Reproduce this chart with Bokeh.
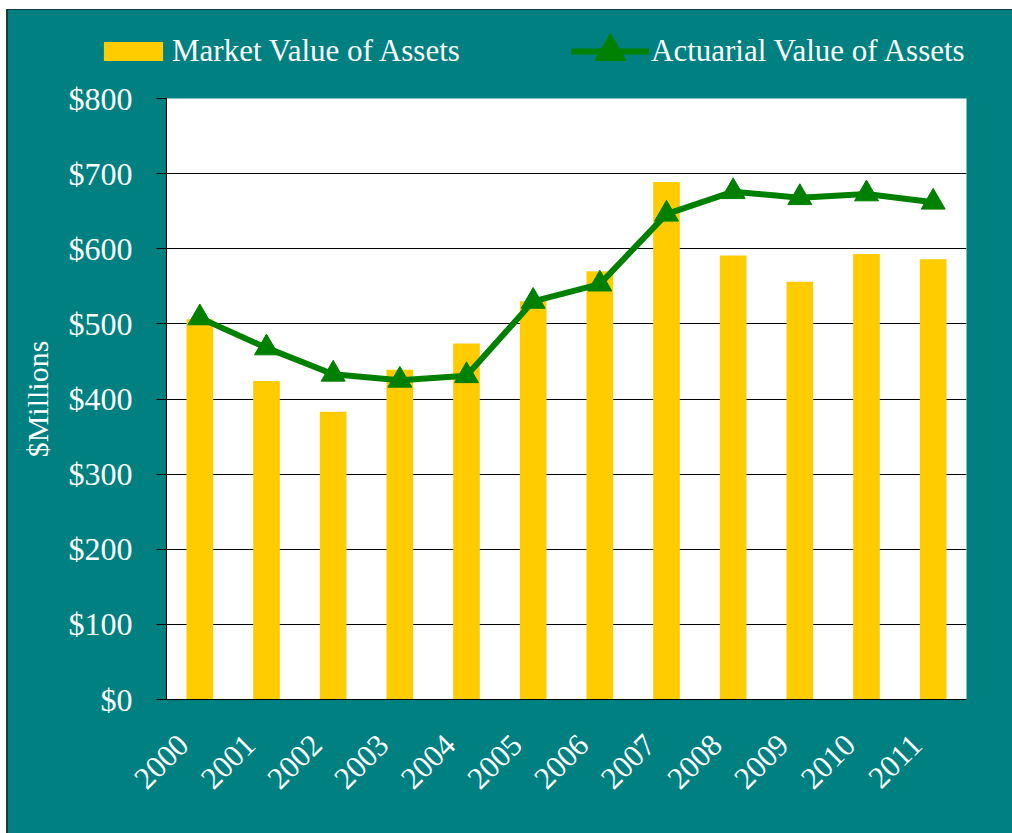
from math import pi
from bokeh.plotting import figure
from bokeh.layouts import column
from bokeh.models import (Range1d, Legend, LegendItem, NumeralTickFormatter, FixedTicker)
from bokeh.embed import file_html
from bokeh.resources import INLINE

years = ["2000", "2001", "2002", "2003", "2004", "2005", "2006", "2007", "2008", "2009", "2010", "2011"]
market_value = [506, 424, 383, 439, 474, 530, 570, 689, 591, 556, 593, 586]
actuarial_value = [508, 468, 433, 425, 431, 530, 553, 646, 676, 668, 673, 662]
y_ticks = [0, 100, 200, 300, 400, 500, 600, 700, 800]
series_names = ["Market Value of Assets", "Actuarial Value of Assets"]

TEAL = "#008080"
GOLD = "#FFCC00"
GREEN = "#008000"
FONT = "Liberation Serif"
W = 1004

# category slots: year i occupies [i, i+1] on the x scale, centred at i + 0.5
x_pos = [i + 0.5 for i in range(len(years))]

# ---- legend strip (top) ----
lf = figure(x_range=Range1d(0, len(years)), y_range=Range1d(5000, 5100), width=W, height=68,
            output_backend="svg", toolbar_location=None,
            min_border_left=0, min_border_right=0, min_border_top=0, min_border_bottom=0)
lf.frame_align = False
lf.axis.visible = False
lf.grid.visible = False
lf.outline_line_color = None
lf.background_fill_color = TEAL
lf.border_fill_color = TEAL
# proxies for the legend (outside the visible y window)
lb = lf.vbar(x=x_pos, top=market_value, width=0.4, fill_color=GOLD, line_color=None)
ll = lf.line(x=x_pos, y=actuarial_value, line_color=GREEN, line_width=6)
lp = lf.scatter(x=x_pos, y=actuarial_value, marker="triangle", size=24,
                fill_color=GREEN, line_color=GREEN)

def style_legend(lg):
    lg.background_fill_alpha = 0
    lg.border_line_color = None
    lg.padding = 0
    lg.margin = 0
    lg.label_text_color = "white"
    lg.label_text_font = FONT
    lg.label_text_font_size = "31px"
    lf.add_layout(lg)

leg1 = Legend(items=[LegendItem(label=series_names[0], renderers=[lb])], location=(88, 9))
leg1.glyph_width = 74
leg1.glyph_height = 24
leg1.label_standoff = 2
style_legend(leg1)

leg2 = Legend(items=[LegendItem(label=series_names[1], renderers=[ll, lp])], location=(563, -13))
leg2.glyph_width = 78
leg2.glyph_height = 80
leg2.label_standoff = 2
style_legend(leg2)

# ---- main chart ----
p = figure(x_range=Range1d(0, len(years)), y_range=Range1d(0, 800),
           width=W, height=755, output_backend="svg", toolbar_location=None,
           min_border_left=158, min_border_right=46, min_border_top=20, min_border_bottom=134)
p.frame_align = False

p.background_fill_color = "white"
p.border_fill_color = TEAL
p.outline_line_color = None

p.vbar(x=x_pos, top=market_value, width=0.4, fill_color=GOLD, line_color=None)
p.line(x=x_pos, y=actuarial_value, line_color=GREEN, line_width=6)
p.scatter(x=x_pos, y=actuarial_value, marker="triangle", size=24,
          fill_color=GREEN, line_color=GREEN)

p.xgrid.grid_line_color = None
p.ygrid.grid_line_color = "black"
p.ygrid.grid_line_width = 1

yax = p.yaxis[0]
yax.ticker = y_ticks
yax.formatter = NumeralTickFormatter(format="$0")
yax.axis_line_color = "black"
yax.major_label_text_color = "white"
yax.major_label_text_font = FONT
yax.major_label_text_font_size = "32px"
yax.minor_tick_line_color = None
yax.major_tick_line_color = "black"
yax.major_tick_out = 10
yax.major_tick_in = 0
yax.major_label_standoff = 24
yax.axis_label = "$Millions"
yax.axis_label_text_color = "white"
yax.axis_label_text_font = FONT
yax.axis_label_text_font_size = "30px"
yax.axis_label_text_font_style = "normal"
yax.axis_label_standoff = 12

# year labels, anchored slightly left of each slot centre like the original
label_ticks = [i + 0.25 for i in range(len(years))]
xax = p.xaxis[0]
xax.ticker = FixedTicker(ticks=label_ticks)
xax.major_label_overrides = {t: y for t, y in zip(label_ticks, years)}
xax.axis_line_color = "black"
xax.major_tick_line_color = None
xax.minor_tick_line_color = None
xax.major_label_text_color = "white"
xax.major_label_text_font = FONT
xax.major_label_text_font_size = "31px"
xax.major_label_orientation = pi / 4
xax.major_label_standoff = 34

layout = column(lf, p, spacing=0)
layout.margin = (9, 0, 0, 6)
layout.styles = {"border-left": "2px solid #1c3a3a", "border-top": "1px solid #1c3a3a",
                 "background-color": TEAL}

open("out.html", "w").write(file_html(layout, INLINE))
